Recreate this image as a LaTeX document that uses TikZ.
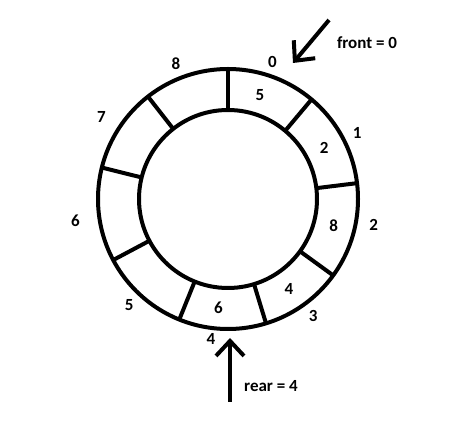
\documentclass[tikz,border=0pt]{standalone}
\usepackage{fontspec}
\setmainfont{Carlito}
\usetikzlibrary{arrows.meta}

\begin{document}
\begin{tikzpicture}[x=1pt,y=1pt,line width=4pt,
  ring/.style={circle,draw,inner sep=0pt,outer sep=0pt},
  lbl/.style={font=\fontsize{17}{20}\selectfont\bfseries,inner sep=1pt},
  ptr/.style={-{Straight Barb[length=15pt,width=28pt]}}]
\useasboundingbox (0,0) rectangle (474,423);
\coordinate (c) at (228,224);
\node [ring,minimum size=260pt] (outer) at (c) {};
\node [ring,minimum size=178pt] (inner) at (c) {};
% the nine cells of the queue
\foreach \a in {90,50,7,-36,-73,-112,-152,166,128}
  \draw (inner.\a) -- (outer.\a);
% index of each cell
\foreach \n/\a/\r in {0/72/144,1/27/145,2/-10/148,3/-54/145,4/-97/141,
                      5/-133/145,6/-172/154,7/147/151,8/111/145}
  \node [lbl] (i\n) at ([shift={(\a:\r)}]c) {\n};
% values stored
\foreach \n/\v/\a in {0/5/73,1/2/28,2/8/-14,3/4/-56,4/6/-95}
  \node [lbl] (v\n) at ([shift={(\a:109)}]c) {\v};
% front and rear
\node [lbl] (front) at (367,380) {front = 0};
\node [lbl] (rear) at (271,37) {rear = 4};
\coordinate (ftail) at (329,403);
\coordinate (fhead) at (293,360);
\coordinate (rtail) at (230,21);
\coordinate (rhead) at (230,85);
\draw [ptr] (ftail) -- (fhead);
\draw [ptr] (rtail) -- (rhead);
\end{tikzpicture}
\end{document}
